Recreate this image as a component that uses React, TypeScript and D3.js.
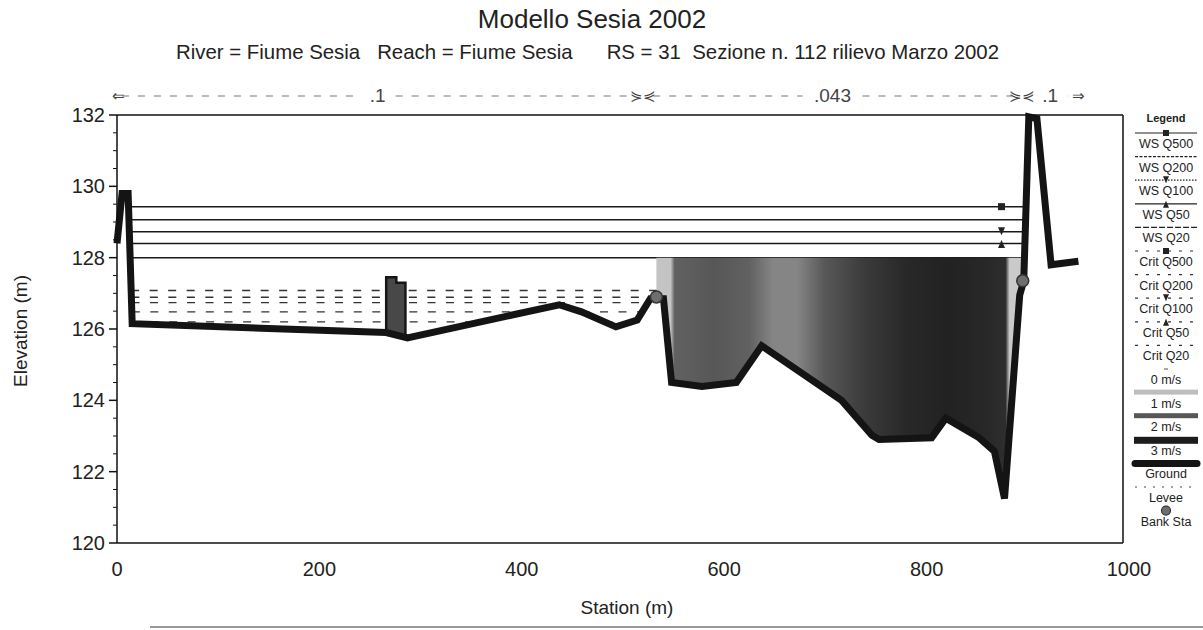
import React from "react";
import * as d3 from "d3";

// ---------------- data ----------------
const groundStation = [0, 5, 11, 15, 266, 287, 437, 459, 493, 514, 527, 540, 548, 578, 612, 637, 716, 746, 753, 805, 819, 852, 867, 877, 892, 896, 901, 909, 923, 950];
const groundElev = [128.4, 129.8, 129.8, 126.15, 125.9, 125.75, 126.68, 126.48, 126.06, 126.25, 126.85, 126.85, 124.5, 124.39, 124.5, 125.53, 124.0, 123.02, 122.9, 122.95, 123.5, 122.95, 122.57, 121.25, 126.95, 127.35, 131.95, 131.9, 127.8, 127.9];

const wsProfiles = ["WS Q500", "WS Q200", "WS Q100", "WS Q50", "WS Q20"];
const wsElev = [129.43, 129.06, 128.73, 128.4, 128.0];
const wsMarker = ["square", "", "down", "up", ""];
const wsMarkerStation = 874;

const critProfiles = ["Crit Q500", "Crit Q200", "Crit Q100", "Crit Q50", "Crit Q20"];
const critElev = [127.08, 126.89, 126.74, 126.48, 126.2];
const critMarker = ["square", "", "down", "up", ""];

const bankStation = [533, 895];
const bankElev = [126.9, 127.35];

const obstructionStation = [266, 266, 276, 276, 285, 285];
const obstructionElev = [125.9, 127.45, 127.45, 127.3, 127.3, 125.8];

const velStation = [533, 547, 551, 590, 625, 648, 672, 700, 740, 780, 820, 860, 878, 882, 895];
const velValue = [0.9, 0.9, 1.9, 2.0, 1.9, 1.55, 1.55, 2.0, 2.5, 2.8, 2.9, 2.8, 2.7, 0.8, 0.8];
const velLegend = ["0 m/s", "1 m/s", "2 m/s", "3 m/s"];

const roughStation = [-5, 520, 894, 950];
const roughValue = [".1", ".043", ".1"];

const xTicks = [0, 200, 400, 600, 800, 1000];
const yTicks = [120, 122, 124, 126, 128, 130, 132];

const title = "Modello Sesia 2002";
const subtitle = "River = Fiume Sesia   Reach = Fiume Sesia      RS = 31  Sezione n. 112 rilievo Marzo 2002";
const xTitle = "Station (m)";
const yTitle = "Elevation (m)";

// ---------------- layout ----------------
const W = 1203;
const H = 630;
const PL = 117, PR = 1123, PT = 115, PB = 543;
const FONT = "'Liberation Sans', Arial, Helvetica, sans-serif";

const x = d3.scaleLinear().domain([0, 1000]).range([PL, 1129]);
const y = d3.scaleLinear().domain([120, 132]).range([PB, PT]);
const velColor = d3.scaleLinear<string>().domain([0, 1, 2, 3]).range(["#ffffff", "#bdbdbd", "#575757", "#1c1c1c"]);

function groundAt(s: number): number {
  for (let i = 0; i < groundStation.length - 1; i++) {
    const s0 = groundStation[i], s1 = groundStation[i + 1];
    if (s >= s0 && s <= s1) {
      const t = s1 === s0 ? 0 : (s - s0) / (s1 - s0);
      return groundElev[i] + t * (groundElev[i + 1] - groundElev[i]);
    }
  }
  return groundElev[groundElev.length - 1];
}

function wetIntervals(level: number): [number, number][] {
  const lp = 1;
  const rp = groundElev.indexOf(d3.max(groundElev) as number);
  const out: [number, number][] = [];
  let start: number | null = null;
  for (let i = lp; i < rp; i++) {
    const s0 = groundStation[i], e0 = groundElev[i], s1 = groundStation[i + 1], e1 = groundElev[i + 1];
    const b0 = e0 < level, b1 = e1 < level;
    if (b0 && start === null) start = s0;
    if (b0 !== b1) {
      const t = (level - e0) / (e1 - e0);
      const sc = s0 + t * (s1 - s0);
      if (b0) { out.push([start as number, sc]); start = null; } else { start = sc; }
    }
  }
  if (start !== null) out.push([start, groundStation[rp]]);
  return out;
}

function Marker({ kind, cx, cy, size = 7 }: { kind: string; cx: number; cy: number; size?: number }) {
  if (!kind) return null;
  const h = size / 2;
  if (kind === "square") return <rect x={cx - h} y={cy - h} width={size} height={size} fill="#222" />;
  if (kind === "down") return <path d={`M${cx - h},${cy - h - 1}L${cx + h},${cy - h - 1}L${cx},${cy + h}Z`} fill="#222" />;
  if (kind === "up") return <path d={`M${cx - h},${cy + h + 1}L${cx + h},${cy + h + 1}L${cx},${cy - h}Z`} fill="#222" />;
  return null;
}

export default function App() {
  const ground: [number, number][] = groundStation.map((s, i) => [s, groundElev[i]]);
  const line = d3.line<[number, number]>().x((d) => x(d[0])).y((d) => y(d[1]));

  // velocity fill polygon (main channel, WS Q20)
  const wsFill = wsElev[wsElev.length - 1];
  const [bl, br] = bankStation;
  const chan: [number, number][] = [[bl, wsFill], [bl, groundAt(bl)]];
  groundStation.forEach((s, i) => { if (s > bl && s < br) chan.push([s, groundElev[i]]); });
  chan.push([br, groundAt(br)], [br, wsFill]);
  const chanPath = line(chan) + "Z";

  const gx1 = x(bl), gx2 = x(br);
  const obstruction: [number, number][] = obstructionStation.map((s, i) => [s, obstructionElev[i]]);

  const minorTicks = d3.range(120, 132.01, 0.5).filter((v) => Math.abs(v - Math.round(v / 2) * 2) > 0.01);

  // legend
  const legendLabels = [...wsProfiles, ...critProfiles, ...velLegend, "Ground", "Levee", "Bank Sta"];
  const LX0 = 1135, LX1 = 1197, LCX = 1166;
  const ly = (i: number) => 133 + 23.6 * i;

  const roughMid = (i: number) => (x(roughStation[i]) + x(roughStation[i + 1])) / 2;

  return (
    <svg width={W} height={H} viewBox={`0 0 ${W} ${H}`} style={{ position: "absolute", left: 0, top: 0, background: "#fff" }} fontFamily={FONT}>
      <defs>
        <linearGradient id="velGrad" gradientUnits="userSpaceOnUse" x1={gx1} x2={gx2} y1={0} y2={0}>
          {velStation.map((s, i) => (
            <stop key={i} offset={(x(s) - gx1) / (gx2 - gx1)} stopColor={velColor(velValue[i])} />
          ))}
        </linearGradient>
      </defs>
      <rect x={0} y={0} width={W} height={H} fill="#fff" />

      {/* titles */}
      <text x={592} y={28} textAnchor="middle" fontSize={26} fill="#222">{title}</text>
      <text x={176} y={59} fontSize={20.4} fill="#222" style={{ whiteSpace: "pre" }}>{subtitle}</text>

      {/* roughness row */}
      <g fill="#444" fontSize={19}>
        {roughValue.map((v, i) => {
          const a = x(roughStation[i]) + 10, b = x(roughStation[i + 1]) - 10, m = roughMid(i);
          const half = v.length * 6 + 6;
          return (
            <g key={i}>
              <line x1={a} x2={m - half} y1={96} y2={96} stroke="#777" strokeWidth={1.2} strokeDasharray="7,9" />
              <line x1={m + half} x2={b} y1={96} y2={96} stroke="#777" strokeWidth={1.2} strokeDasharray="7,9" />
              <text x={m} y={102} textAnchor="middle">{v}</text>
            </g>
          );
        })}
        <text x={x(roughStation[0])} y={101} fontSize={15} textAnchor="start">⇐</text>
        <text x={x(roughStation[1])} y={101} fontSize={15} textAnchor="middle">⋟⋞</text>
        <text x={x(roughStation[2])} y={101} fontSize={15} textAnchor="middle">⋟⋞</text>
        <text x={x(roughStation[3])} y={101} fontSize={15} textAnchor="middle">⇒</text>
      </g>

      {/* crit lines */}
      <g stroke="#333" strokeWidth={1.3} strokeDasharray="8,10.5">
        {critElev.map((e, k) =>
          wetIntervals(e).map(([a, b], j) => (
            <line key={`${k}-${j}`} x1={x(a)} x2={x(b)} y1={y(e)} y2={y(e)} />
          ))
        )}
      </g>

      {/* WS lines */}
      <g stroke="#1a1a1a" strokeWidth={1.5}>
        {wsElev.map((e, k) => {
          const iv = wetIntervals(e);
          const a = iv[0][0], b = iv[iv.length - 1][1];
          return <line key={k} x1={x(a)} x2={x(b)} y1={y(e)} y2={y(e)} />;
        })}
      </g>

      {/* velocity fill */}
      <path d={chanPath} fill="url(#velGrad)" />

      {/* obstruction block */}
      <path d={line(obstruction) + "Z"} fill="#484848" stroke="#161616" strokeWidth={2.5} />

      {/* ground */}
      <path d={line(ground) as string} fill="none" stroke="#141414" strokeWidth={7} strokeLinejoin="miter" strokeMiterlimit={2} />

      {/* bank stations */}
      {bankStation.map((s, i) => (
        <circle key={i} cx={x(s)} cy={y(bankElev[i])} r={6} fill="#6e6e6e" stroke="#333" strokeWidth={1.5} />
      ))}

      {/* WS markers */}
      {wsElev.map((e, k) => (
        <Marker key={k} kind={wsMarker[k]} cx={x(wsMarkerStation)} cy={y(e)} />
      ))}

      {/* frame & axes */}
      <g stroke="#111" strokeWidth={1.5} fill="none">
        <line x1={PL} x2={PR} y1={PT} y2={PT} />
        <line x1={PR} x2={PR} y1={PT} y2={PB} />
        <line x1={PL} x2={PR} y1={PB} y2={PB} />
        <line x1={PL} x2={PL} y1={PT} y2={PB} />
        {yTicks.map((t) => (
          <line key={t} x1={PL - 8} x2={PL} y1={y(t)} y2={y(t)} />
        ))}
        {minorTicks.map((t) => (
          <line key={"m" + t} x1={PL - 4} x2={PL} y1={y(t)} y2={y(t)} strokeWidth={1} />
        ))}
      </g>
      <g fontSize={20} fill="#222">
        {yTicks.map((t) => (
          <text key={t} x={PL - 12} y={y(t) + 7} textAnchor="end">{t}</text>
        ))}
        {xTicks.map((t) => (
          <text key={t} x={x(t)} y={576} textAnchor="middle">{t}</text>
        ))}
      </g>
      <text x={x(500) + 4} y={614} textAnchor="middle" fontSize={19} fill="#222">{xTitle}</text>
      <text transform={`translate(27,331) rotate(-90)`} textAnchor="middle" fontSize={19} fill="#222">{yTitle}</text>

      {/* legend */}
      <text x={LCX} y={122} textAnchor="middle" fontSize={11} fontWeight="bold" fill="#222">Legend</text>
      {legendLabels.map((lab, i) => {
        const sy = ly(i);
        let sample: React.ReactNode = null;
        if (i < 5) {
          const dash = ["", "3,1.5", "1.5,1.5", "", "6,2"][i];
          sample = (
            <g>
              <line x1={LX0} x2={LX1} y1={sy} y2={sy} stroke="#222" strokeWidth={1.2} strokeDasharray={dash || undefined} />
              <Marker kind={wsMarker[i]} cx={LCX} cy={sy} size={6} />
            </g>
          );
        } else if (i < 10) {
          sample = (
            <g>
              <line x1={LX0} x2={LX1} y1={sy} y2={sy} stroke="#333" strokeWidth={1.2} strokeDasharray="3,8" />
              <Marker kind={critMarker[i - 5]} cx={LCX} cy={sy} size={6} />
            </g>
          );
        } else if (i < 14) {
          const v = i - 10;
          sample = v === 0
            ? <line x1={LCX - 2} x2={LCX + 2} y1={sy} y2={sy} stroke="#555" strokeWidth={1} />
            : <rect x={LX0 - 1} y={sy - 3} width={LX1 - LX0 + 2} height={v === 3 ? 7 : 5} fill={velColor(v)} />;
        } else if (i === 14) {
          sample = <line x1={LX0} x2={LX1} y1={sy} y2={sy} stroke="#141414" strokeWidth={7} strokeLinecap="round" />;
        } else if (i === 15) {
          sample = <line x1={LX0} x2={LX1} y1={sy} y2={sy} stroke="#444" strokeWidth={1.2} strokeDasharray="2,7" />;
        } else {
          sample = <circle cx={LCX} cy={sy} r={4.5} fill="#6e6e6e" stroke="#333" strokeWidth={1.2} />;
        }
        return (
          <g key={lab}>
            {sample}
            <text x={LCX} y={sy + 15} textAnchor="middle" fontSize={12.5} fill="#222">{lab}</text>
          </g>
        );
      })}

      {/* scan border line */}
      <line x1={150} x2={W} y1={627} y2={627} stroke="#999" strokeWidth={2} />
    </svg>
  );
}
